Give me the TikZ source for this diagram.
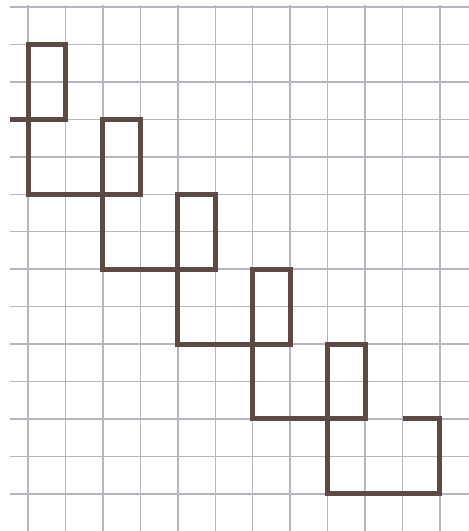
\documentclass[tikz,border=0pt]{standalone}
\definecolor{gridgray}{HTML}{B6B6BE}
\definecolor{pathbrown}{HTML}{5E4A44}
\tikzset{
  gridline/.style={draw=gridgray, line width=1.5pt},
  stair/.style={draw=pathbrown, line width=5pt, line join=miter}
}
\begin{document}
\begin{tikzpicture}[x=1pt,y=-1pt]
\useasboundingbox (0,0) rectangle (469,531);
\fill[white] (0,0) rectangle (469,531);
% grid
\foreach \j in {0,...,14} {
  \draw[gridline] (10,{7+37.45*\j}) -- (469,{7+37.45*\j});
}
\foreach \i in {0,...,11} {
  \draw[gridline] ({28+37.45*\i},5) -- ({28+37.45*\i},531);
}
% staircase path (column c -> x=28+37.45c, row r -> y=7+37.45r)
\newcommand{\gx}[1]{28+37.45*#1}
\newcommand{\gy}[1]{7+37.45*#1}
\coordinate (s0) at (10,{\gy{3}});
\draw[stair] (s0)
  -- ({\gx{1}},{\gy{3}}) -- ({\gx{1}},{\gy{1}}) -- ({\gx{0}},{\gy{1}})
  -- ({\gx{0}},{\gy{5}}) -- ({\gx{3}},{\gy{5}}) -- ({\gx{3}},{\gy{3}}) -- ({\gx{2}},{\gy{3}})
  -- ({\gx{2}},{\gy{7}}) -- ({\gx{5}},{\gy{7}}) -- ({\gx{5}},{\gy{5}}) -- ({\gx{4}},{\gy{5}})
  -- ({\gx{4}},{\gy{9}}) -- ({\gx{7}},{\gy{9}}) -- ({\gx{7}},{\gy{7}}) -- ({\gx{6}},{\gy{7}})
  -- ({\gx{6}},{\gy{11}}) -- ({\gx{9}},{\gy{11}}) -- ({\gx{9}},{\gy{9}}) -- ({\gx{8}},{\gy{9}})
  -- ({\gx{8}},{\gy{13}}) -- ({\gx{11}},{\gy{13}}) -- ({\gx{11}},{\gy{11}}) -- ({\gx{10}},{\gy{11}});
\end{tikzpicture}
\end{document}
